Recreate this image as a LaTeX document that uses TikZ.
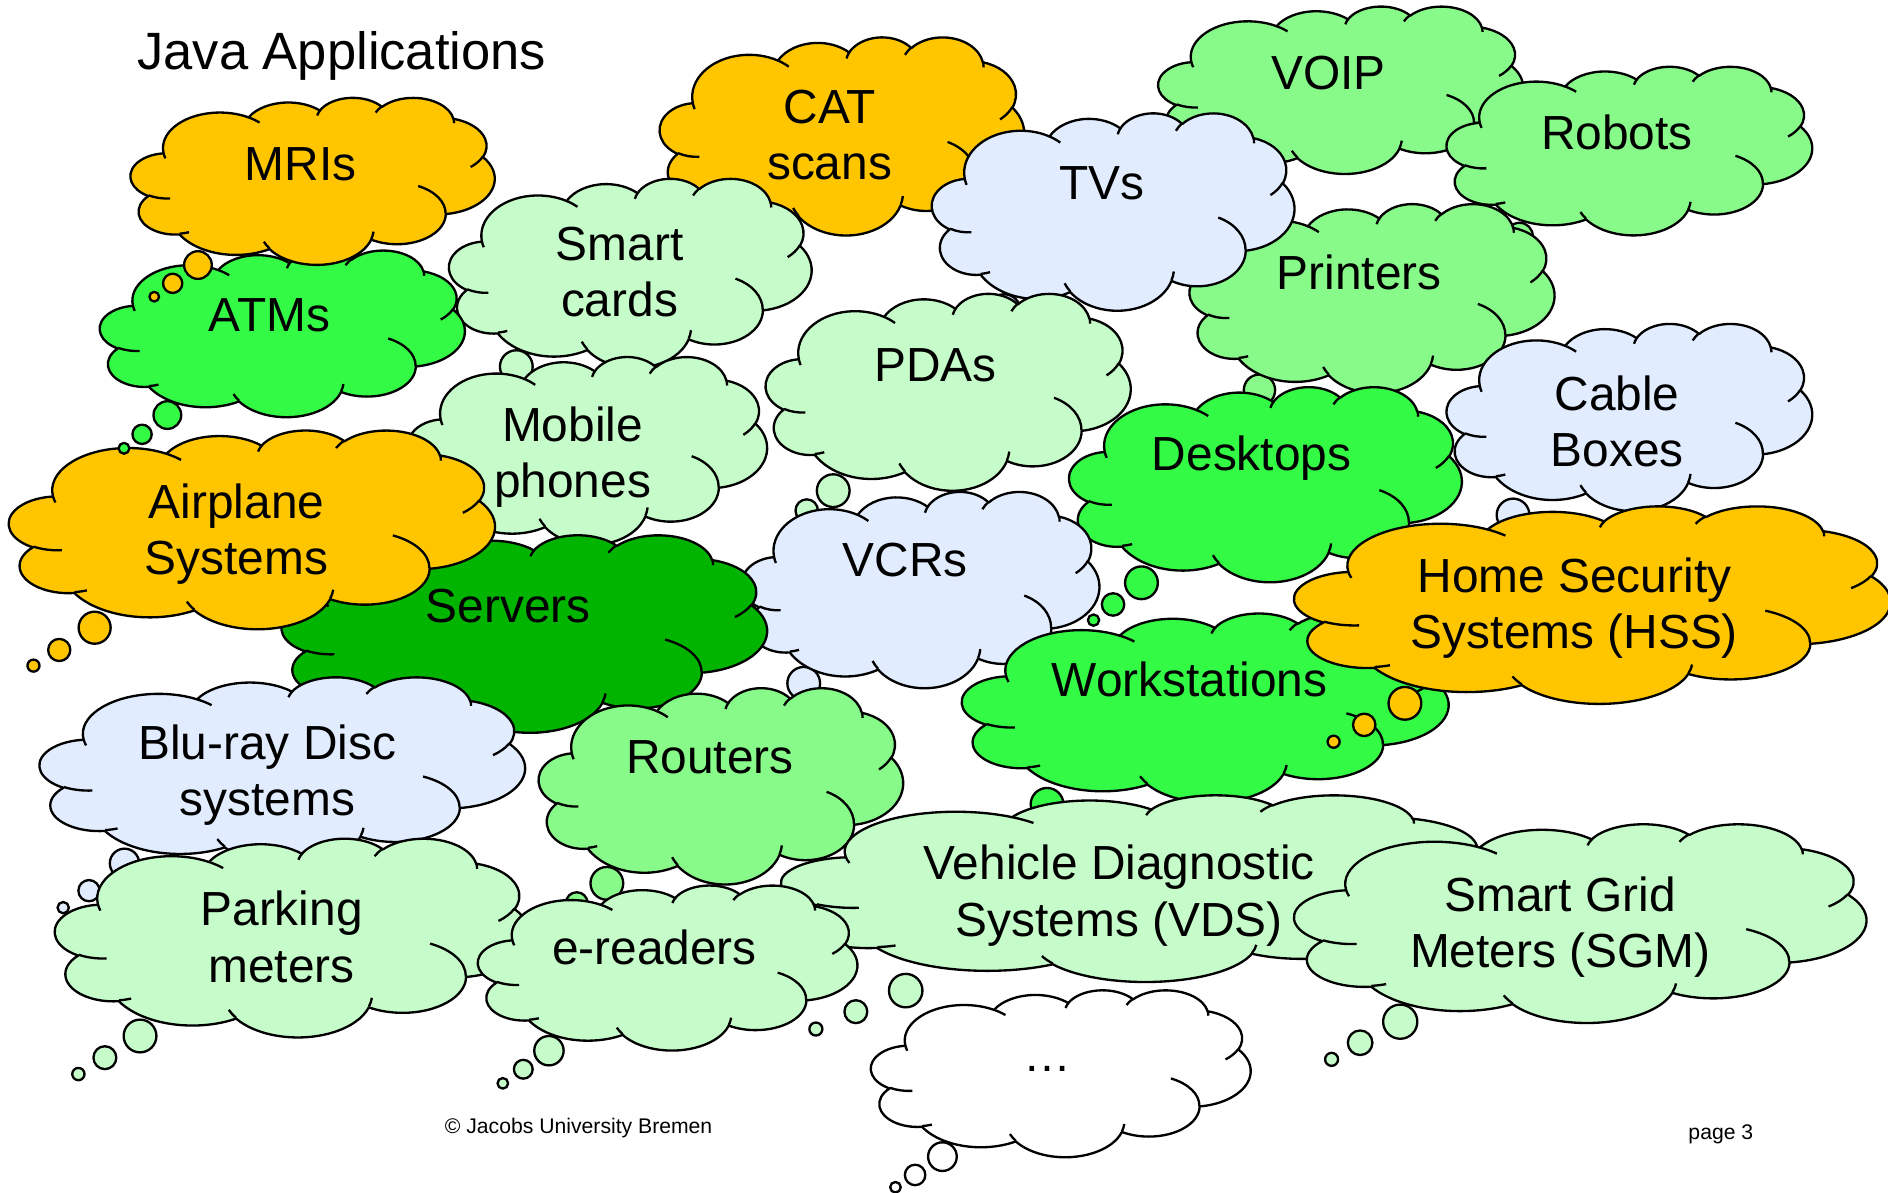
\documentclass[tikz,border=0pt]{standalone}
\usepackage{tikz}
\usepackage{fontspec}
\setmainfont{Liberation Sans}

% Elliptic arc given by its visual start angle and sweep (degrees),
% stored as a TikZ style with parametric start angle and delta angle.
\makeatletter
\newcommand\ooArc[5]{%
  \pgfmathsetmacro\oo@a{#4}%
  \pgfmathsetmacro\oo@b{#4+#5}%
  \pgfmathsetmacro\oo@s{atan2(#2*sin(\oo@a),#3*cos(\oo@a))}%
  \pgfmathsetmacro\oo@e{atan2(#2*sin(\oo@b),#3*cos(\oo@b))}%
  \pgfmathsetmacro\oo@d{\oo@e-\oo@s}%
  \pgfmathsetmacro\oo@d{\oo@d<0 ? \oo@d+360 : \oo@d}%
  \edef\oo@tmp{\noexpand\tikzset{#1/.style={start angle=\oo@s,delta angle=\oo@d,x radius=#2,y radius=#3}}}%
  \oo@tmp}
\makeatother

% outer bumps of the cloud (frame 43.2 x 43.2)
\ooArc{cA}{6.753}{9.190}{-190.4875}{123.7805}
\ooArc{cB}{5.333}{7.267}{-144.1024}{89.9452}
\ooArc{cC}{4.365}{5.945}{-145.8079}{99.7230}
\ooArc{cD}{4.857}{6.595}{-130.9861}{117.2417}
\ooArc{cE}{5.333}{7.273}{-78.7089}{109.0269}
\ooArc{cF}{6.775}{9.220}{-46.2673}{130.2690}
\ooArc{cG}{5.785}{7.867}{0.6250}{114.0333}
\ooArc{cH}{6.752}{9.215}{22.4516}{115.1726}
\ooArc{cI}{7.720}{10.543}{66.2426}{75.7110}
\ooArc{cJ}{4.360}{5.918}{-274.9421}{146.7356}
\ooArc{cK}{4.345}{5.945}{-246.8285}{152.5189}
% inner crease arcs
\ooArc{iA}{4.345}{5.945}{86.7420}{26.4295}
\ooArc{iB}{4.360}{5.918}{73.6105}{11.4475}
\ooArc{iC}{6.752}{9.215}{137.6242}{14.0811}
\ooArc{iD}{6.752}{9.215}{6.4533}{15.9984}
\ooArc{iE}{5.785}{7.867}{-70.2924}{70.9174}
\ooArc{iF}{5.333}{7.273}{30.3180}{27.7515}
\ooArc{iG}{4.857}{6.595}{-13.7443}{14.8589}
\ooArc{iH}{4.857}{6.595}{-149.1815}{18.1954}
\ooArc{iI}{4.365}{5.945}{-163.4943}{17.6864}
\ooArc{iJ}{6.753}{9.190}{-66.7070}{12.3194}
\ooArc{iK}{6.753}{9.190}{157.6544}{11.8582}

\definecolor{orangeC}{HTML}{FFC600}
\definecolor{paleG}{HTML}{C6FCC9}
\definecolor{midG}{HTML}{88FA8A}
\definecolor{brightG}{HTML}{33FA45}
\definecolor{darkG}{HTML}{00B400}
\definecolor{lightB}{HTML}{E2ECFF}

\tikzset{
  cloudline/.style={draw=black, line width=0.55pt, line join=round},
  lbl/.style={anchor=base, inner sep=0pt, font=\fontsize{11.3}{13.3}\selectfont},
}

% cloud body: left, top, right, bottom, fill
\newcommand\cloudshape[5]{%
  \begin{scope}[shift={(#1,#2)}, xscale={(#3-(#1))/43.2}, yscale={(#4-(#2))/43.2}]
    \filldraw[cloudline, fill=#5] (3.9,14.37) arc[cA] arc[cB] arc[cC] arc[cD] arc[cE]
      arc[cF] arc[cG] arc[cH] arc[cI] arc[cJ] arc[cK] -- cycle;
    \draw[cloudline] (4.693,26.177) arc[iA] (6.928,34.899) arc[iB]
      (16.478,39.09) arc[iC] (28.827,34.751) arc[iD] (34.129,22.954) arc[iE]
      (41.798,15.354) arc[iF] (38.324,5.426) arc[iG] (29.078,3.952) arc[iH]
      (22.141,4.72) arc[iI] (14,5.192) arc[iJ] (4.127,15.789) arc[iK];
  \end{scope}}
% thought bubble: x, y, radius, fill
\newcommand\bubble[4]{\filldraw[cloudline, fill=#4] (#1,#2) circle[radius=#3];}
\newcommand\twolines[2]{\begin{tabular}[t]{@{}c@{}}#1\\#2\end{tabular}}

\begin{document}
\begin{tikzpicture}[x=0.01cm, y=-0.01cm]
\fill[white] (0,0) rectangle (1568,990);
\useasboundingbox (0,0) rectangle (1568,990);

\node[anchor=base west, inner sep=0pt, font=\fontsize{12.4}{14}\selectfont] (title) at (113.5,58.1) {Java Applications};

% VOIP
\cloudshape{962}{5}{1265}{144}{midG}
\node[lbl] (voip) at (1103.4,74.2) {VOIP};
% Robots
\bubble{1262}{196}{11}{midG}
\cloudshape{1201.5}{55}{1505}{195}{midG}
\node[lbl] (robots) at (1342.9,124) {Robots};
% CAT scans
\cloudshape{548}{30.5}{850.5}{195}{orangeC}
\node[lbl] (cat) at (689,102.4) {\twolines{CAT}{scans}};
% Printers
\bubble{1046}{324}{13}{midG}
\cloudshape{988}{169}{1291}{326}{midG}
\node[lbl] (printers) at (1128.8,240.8) {Printers};
% TVs
\bubble{834}{258}{13.6}{lightB}
\cloudshape{774}{93.6}{1075}{257.5}{lightB}
\node[lbl] (tvs) at (915,166) {TVs};
% Smart cards
\bubble{428.8}{304.5}{13.6}{paleG}
\cloudshape{373}{148}{674}{305}{paleG}
\node[lbl] (smartcards) at (514.5,216) {\twolines{Smart}{cards}};
% PDAs
\bubble{692}{407.5}{13.6}{paleG}
\bubble{670}{424}{9.3}{paleG}
\cloudshape{636}{243.5}{939}{407}{paleG}
\node[lbl] (pdas) at (777,317) {PDAs};
% Cable Boxes
\bubble{1256.6}{427.7}{13.6}{lightB}
\cloudshape{1201.5}{268.5}{1505}{424}{lightB}
\node[lbl] (cable) at (1343,340.5) {\twolines{Cable}{Boxes}};
% Desktops
\bubble{948}{484}{13.6}{brightG}
\bubble{924.4}{502}{9.3}{brightG}
\bubble{908.2}{515}{4.7}{brightG}
\cloudshape{888}{321}{1214}{483}{brightG}
\node[lbl] (desktops) at (1039.5,391) {Desktops};
% Mobile phones
\cloudshape{339}{296}{637}{452}{paleG}
\node[lbl] (mobile) at (475.5,366.8) {\twolines{Mobile}{phones}};
% VCRs
\bubble{667.5}{567.5}{13.6}{lightB}
\cloudshape{616}{408}{913}{571}{lightB}
\node[lbl] (vcrs) at (751.9,479) {VCRs};
% Servers
\cloudshape{234}{444}{637}{608}{darkG}
\node[lbl] (servers) at (422,517) {Servers};
% Airplane Systems
\bubble{78.6}{521.3}{13.3}{orangeC}
\bubble{49.2}{539.8}{9.2}{orangeC}
\bubble{27.8}{552.8}{5}{orangeC}
\cloudshape{7.5}{357}{411}{522}{orangeC}
\node[lbl] (airplane) at (196.5,430.5) {\twolines{Airplane}{Systems}};
% ATMs
\bubble{139}{344.7}{11.5}{brightG}
\bubble{118}{360.7}{8}{brightG}
\bubble{103}{372.3}{4.5}{brightG}
\cloudshape{83}{207.6}{386}{346}{brightG}
\node[lbl] (atms) at (223.7,275.5) {ATMs};
% MRIs
\bubble{164.4}{220.1}{11.5}{orangeC}
\bubble{143.4}{235.3}{8}{orangeC}
\bubble{128.1}{246.4}{4}{orangeC}
\cloudshape{108.5}{80.8}{410.8}{219.5}{orangeC}
\node[lbl] (mris) at (249.7,149.5) {MRIs};
% Workstations
\bubble{869.6}{668}{13.6}{brightG}
\cloudshape{799}{509}{1203}{666}{brightG}
\node[lbl] (ws) at (988,578.6) {Workstations};
% Home Security Systems
\bubble{1166.8}{584.1}{13.6}{orangeC}
\bubble{1133}{602}{9.3}{orangeC}
\bubble{1107.6}{616}{5}{orangeC}
\cloudshape{1075}{420}{1570}{584}{orangeC}
\node[lbl] (hss) at (1307.6,492) {\twolines{Home Security}{Systems (HSS)}};
% Blu-ray Disc systems
\bubble{103.4}{717}{12.2}{lightB}
\bubble{73.9}{739.7}{8.8}{lightB}
\bubble{52.5}{753.8}{4.7}{lightB}
\cloudshape{33}{562}{436}{718}{lightB}
\node[lbl] (bluray) at (222,630.6) {\twolines{Blu-ray Disc}{systems}};
% Parking meters
\bubble{116.3}{860.4}{13.6}{paleG}
\bubble{87.1}{878.4}{9.5}{paleG}
\bubble{65.1}{892}{5.1}{paleG}
\cloudshape{45.7}{696}{440}{861}{paleG}
\node[lbl] (parking) at (233.9,769) {\twolines{Parking}{meters}};
% Routers
\bubble{504}{733.6}{13.6}{midG}
\bubble{479}{750}{9}{midG}
\cloudshape{447.5}{571}{750}{734}{midG}
\node[lbl] (routers) at (589.5,642.3) {Routers};
% Vehicle Diagnostic Systems
\bubble{752.2}{822.7}{13.9}{paleG}
\bubble{710.8}{840.2}{9.5}{paleG}
\bubble{677.6}{854.6}{5.4}{paleG}
\cloudshape{649}{660}{1240}{815}{paleG}
\node[lbl] (vds) at (929.5,730.8) {\twolines{Vehicle Diagnostic}{Systems (VDS)}};
% e-readers
\bubble{455.9}{872.6}{12.2}{paleG}
\bubble{434.6}{888}{7.8}{paleG}
\bubble{417.6}{899.7}{4.4}{paleG}
\cloudshape{397}{735}{712}{872}{paleG}
\node[lbl] (ereaders) at (543.5,801.4) {e-readers};
% Smart Grid Meters
\bubble{1162.9}{848.5}{14.2}{paleG}
\bubble{1129.6}{866}{10.2}{paleG}
\bubble{1105.9}{879.8}{5.4}{paleG}
\cloudshape{1075}{684}{1550}{849}{paleG}
\node[lbl] (sgm) at (1295.8,757) {\twolines{Smart Grid}{Meters (SGM)}};
% more
\bubble{782.7}{960.6}{11.9}{white}
\bubble{760}{975.8}{8.5}{white}
\bubble{743.7}{986}{4.4}{white}
\cloudshape{723.4}{822}{1038.6}{960.6}{white}
\node[lbl] (more) at (869.8,890) {…};

\node[anchor=base west, inner sep=0pt, font=\fontsize{5}{6}\selectfont] (copyright) at (368.8,941) {© Jacobs University Bremen};
\node[anchor=base west, inner sep=0pt, font=\fontsize{5}{6}\selectfont] (page) at (1401.6,946) {page 3};
\end{tikzpicture}
\end{document}
